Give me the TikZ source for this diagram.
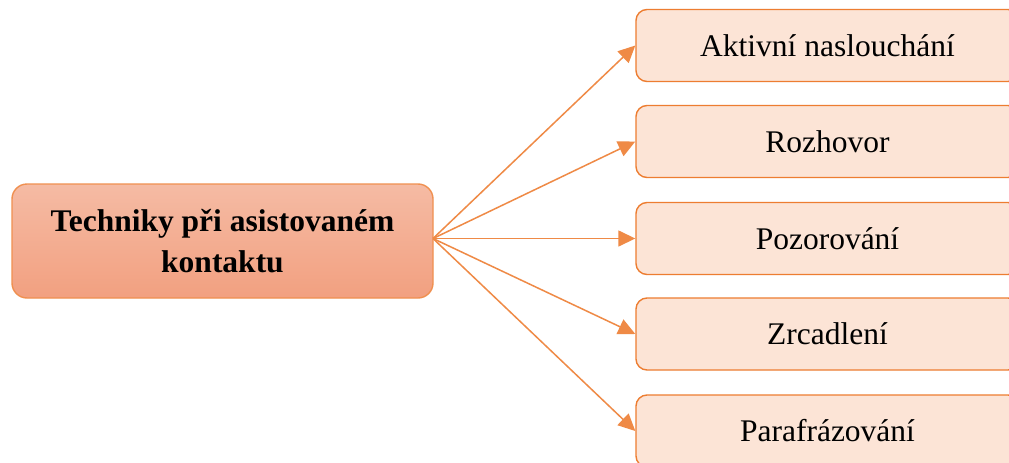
\documentclass[tikz,border=0pt]{standalone}
\usepackage{fontspec}
\setmainfont{Liberation Serif}
\usetikzlibrary{arrows.meta}
\definecolor{acc}{HTML}{ED7D31}
\definecolor{lightfill}{HTML}{FCE4D6}
\definecolor{gtop}{HTML}{F5BBA4}
\definecolor{gbot}{HTML}{F2A080}
\tikzset{
  mainbox/.style={draw=acc!85, line width=1.4pt, rounded corners=15pt, top color=gtop, bottom color=gbot,
    minimum width=421pt, minimum height=114pt, align=center, inner sep=0pt,
    font=\fontsize{31.5}{41}\selectfont\bfseries},
  itembox/.style={draw=acc, line width=1.4pt, rounded corners=11pt, fill=lightfill,
    minimum width=383pt, minimum height=72pt, inner sep=0pt,
    font=\fontsize{31.5}{38}\selectfont},
  conn/.style={draw=acc!90, line width=1.5pt, -{Triangle[length=17pt,width=16pt]}}
}
\begin{document}
\begin{tikzpicture}[x=1pt,y=-1pt]
\clip (0,0) rectangle (1009,463);
\fill[white] (0,0) rectangle (1009,463);
\node[mainbox] (m) at (222.5,241) {Techniky při asistovaném\\kontaktu};
\node[itembox] (a) at (827.5,45.5) {Aktivní naslouchání};
\node[itembox] (b) at (827.5,141.5) {Rozhovor};
\node[itembox] (c) at (827.5,238.5) {Pozorování};
\node[itembox] (d) at (827.5,334) {Zrcadlení};
\node[itembox] (e) at (827.5,431) {Parafrázování};
\coordinate (o) at (433,238.5);
\foreach \t in {a,b,c,d,e} \draw[conn] (o) -- (\t.west);
\end{tikzpicture}
\end{document}
